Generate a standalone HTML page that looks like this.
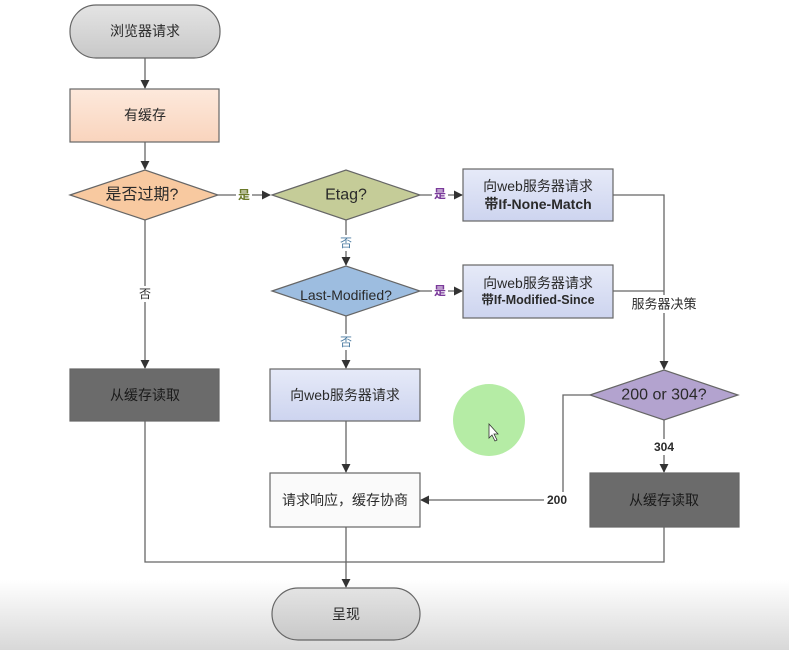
<!DOCTYPE html>
<html><head><meta charset="utf-8"><style>
html,body{margin:0;padding:0;background:#fff}
svg{display:block}
text{font-family:"Liberation Sans","Noto Sans CJK SC",sans-serif;font-size:14px;fill:#2a2a2a;text-anchor:middle;dominant-baseline:central}
</style></head><body>
<svg width="789" height="650" viewBox="0 0 789 650" xmlns="http://www.w3.org/2000/svg">
<defs>
<linearGradient id="bg" x1="0" y1="0" x2="0" y2="1"><stop offset="0" stop-color="#fff"/><stop offset="1" stop-color="#d8d8d8"/></linearGradient>
<linearGradient id="gt" x1="0" y1="0" x2="0" y2="1"><stop offset="0" stop-color="#e4e4e4"/><stop offset="1" stop-color="#c8c8c8"/></linearGradient>
<linearGradient id="pe" x1="0" y1="0" x2="0" y2="1"><stop offset="0" stop-color="#fde9dc"/><stop offset="1" stop-color="#f9d4bd"/></linearGradient>
<linearGradient id="bl" x1="0" y1="0" x2="0" y2="1"><stop offset="0" stop-color="#e6eaf8"/><stop offset="1" stop-color="#cdd4ef"/></linearGradient>
<marker id="a" viewBox="0 0 10 10" refX="9" refY="5" markerWidth="7" markerHeight="7" orient="auto"><path d="M0,0L10,5L0,10z" fill="#333"/></marker>
</defs>
<rect x="0" y="580" width="789" height="70" fill="url(#bg)"/>
<g stroke="#666" stroke-width="1.3" fill="none">
<path d="M145,58V88" marker-end="url(#a)"/>
<path d="M145,142V169" marker-end="url(#a)"/>
<path d="M218,195H270" marker-end="url(#a)"/>
<path d="M145,220V368" marker-end="url(#a)"/>
<path d="M420,195H462" marker-end="url(#a)"/>
<path d="M346,220V265" marker-end="url(#a)"/>
<path d="M420,291H462" marker-end="url(#a)"/>
<path d="M346,316V368" marker-end="url(#a)"/>
<path d="M346,421V472" marker-end="url(#a)"/>
<path d="M613,195H664V369" marker-end="url(#a)"/>
<path d="M613,291H664"/>
<path d="M664,420V472" marker-end="url(#a)"/>
<path d="M590,395H563V500H421" marker-end="url(#a)"/>
<path d="M346,527V587" marker-end="url(#a)"/>
<path d="M145,421V562H664V527"/>
</g>
<g stroke="#666" stroke-width="1.2">
<rect x="70" y="5" width="150" height="53" rx="26" fill="url(#gt)"/>
<rect x="70" y="89" width="149" height="53" fill="url(#pe)"/>
<polygon points="70,195 145,170 218,195 145,220" fill="#f8c9a0"/>
<polygon points="272,195 346,170 420,195 346,220" fill="#c5cc98"/>
<polygon points="272,291 346,266 420,291 346,316" fill="#9dbde0"/>
<rect x="463" y="169" width="150" height="52" fill="url(#bl)"/>
<rect x="463" y="265" width="150" height="53" fill="url(#bl)"/>
<polygon points="590,395 664,370 738,395 664,420" fill="#b3a3cf"/>
<rect x="70" y="369" width="149" height="52" fill="#6b6b6b"/>
<rect x="270" y="369" width="150" height="52" fill="url(#bl)"/>
<rect x="270" y="473" width="150" height="54" fill="#fafafa"/>
<rect x="590" y="473" width="149" height="54" fill="#6b6b6b"/>
<rect x="272" y="588" width="148" height="52" rx="26" fill="url(#gt)"/>
</g>
<circle cx="489" cy="420" r="36" fill="#b5eca5"/>
<path d="M489,424l0,14l3,-3l3,6l2,-1l-3,-6l4,0z" fill="#fff" stroke="#333" stroke-width="0.8"/>
<text x="145" y="31">浏览器请求</text>
<text x="145" y="115">有缓存</text>
<text x="142" y="195" style="font-size:16px">是否过期?</text>
<text x="346" y="195" style="font-size:16px">Etag?</text>
<text x="346" y="295" style="font-size:14px">Last-Modified?</text>
<text x="538" y="186">向web服务器请求</text>
<text x="538" y="204" style="font-weight:bold">带If-None-Match</text>
<text x="538" y="283">向web服务器请求</text>
<text x="538" y="300" style="font-weight:bold;font-size:12.5px">带If-Modified-Since</text>
<text x="664" y="395" style="font-size:16px">200 or 304?</text>
<text x="145" y="395" style="fill:#1a1a1a">从缓存读取</text>
<text x="345" y="395">向web服务器请求</text>
<text x="345" y="500">请求响应，缓存协商</text>
<text x="664" y="500" style="fill:#1a1a1a">从缓存读取</text>
<text x="346" y="614">呈现</text>
<rect x="236" y="187" width="16" height="16" fill="#fff"/><text x="244" y="195" style="fill:#6b7a2a;font-size:12px;font-weight:bold">是</text>
<rect x="432" y="187" width="16" height="16" fill="#fff"/><text x="440" y="194" style="fill:#7a3a9a;font-size:12px;font-weight:bold">是</text>
<rect x="432" y="283" width="16" height="16" fill="#fff"/><text x="440" y="291" style="fill:#7a3a9a;font-size:12px;font-weight:bold">是</text>
<rect x="338" y="235" width="16" height="16" fill="#fff"/><text x="346" y="243" style="fill:#4a7aa0;font-size:12px">否</text>
<rect x="338" y="334" width="16" height="16" fill="#fff"/><text x="346" y="342" style="fill:#4a7aa0;font-size:12px">否</text>
<rect x="137" y="286" width="16" height="16" fill="#fff"/><text x="145" y="294" style="font-size:12px">否</text>
<rect x="626" y="295" width="76" height="18" fill="#fff"/><text x="664" y="304" style="font-size:13px">服务器决策</text>
<rect x="651" y="439" width="26" height="16" fill="#fff"/><text x="664" y="447" style="font-size:12px;font-weight:bold">304</text>
<rect x="544" y="492" width="26" height="16" fill="#fff"/><text x="557" y="500" style="font-size:12px;font-weight:bold">200</text>
</svg>
</body></html>
